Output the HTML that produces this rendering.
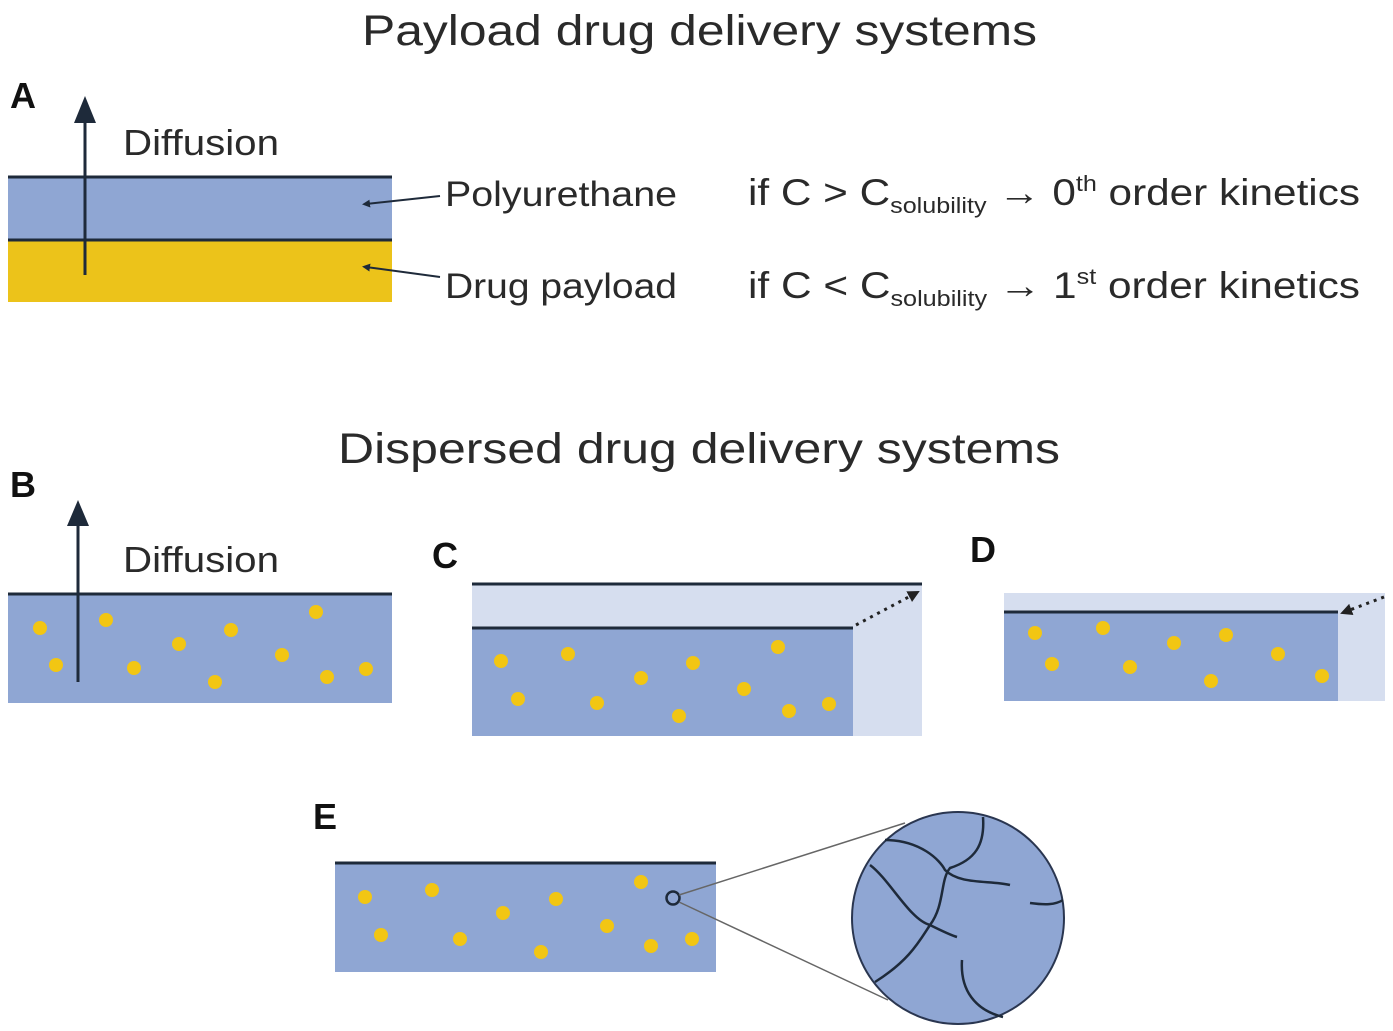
<!DOCTYPE html>
<html><head><meta charset="utf-8"><style>html,body{margin:0;padding:0;background:#fff}svg{display:block}</style></head>
<body>
<svg width="1393" height="1031" viewBox="0 0 1393 1031" xmlns="http://www.w3.org/2000/svg" font-family="Liberation Sans, sans-serif">
<defs>
<marker id="ah" markerWidth="8" markerHeight="8" refX="4" refY="4" orient="auto" markerUnits="userSpaceOnUse"><path d="M0,0 L8,4 L0,8 z" fill="#1e2a3a"/></marker>
<marker id="ad" markerWidth="12" markerHeight="12" refX="10" refY="6" orient="auto" markerUnits="userSpaceOnUse"><path d="M0,0 L12,6 L0,12 z" fill="#222"/></marker>
</defs>
<g fill="#2a2a2a">
<text x="362" y="45" font-size="43" textLength="675" lengthAdjust="spacingAndGlyphs">Payload drug delivery systems</text>
<text x="338" y="463" font-size="43" textLength="722" lengthAdjust="spacingAndGlyphs">Dispersed drug delivery systems</text>
<text x="10" y="108" font-size="36" font-weight="bold" fill="#111">A</text>
<text x="10" y="497" font-size="36" font-weight="bold" fill="#111">B</text>
<text x="432" y="568" font-size="36" font-weight="bold" fill="#111">C</text>
<text x="970" y="562" font-size="36" font-weight="bold" fill="#111">D</text>
<text x="313" y="829" font-size="36" font-weight="bold" fill="#111">E</text>
<text x="123" y="155" font-size="36" textLength="156" lengthAdjust="spacingAndGlyphs">Diffusion</text>
<text x="123" y="572" font-size="36" textLength="156" lengthAdjust="spacingAndGlyphs">Diffusion</text>
<text x="445" y="206" font-size="35" textLength="232" lengthAdjust="spacingAndGlyphs">Polyurethane</text>
<text x="445" y="298" font-size="35" textLength="232" lengthAdjust="spacingAndGlyphs">Drug payload</text>
<text x="748" y="205" font-size="37" lengthAdjust="spacingAndGlyphs" textLength="612">if C &gt; C<tspan font-size="22" dy="8">solubility</tspan><tspan dy="-8"> → 0</tspan><tspan font-size="22" dy="-14">th</tspan><tspan dy="14"> order kinetics</tspan></text>
<text x="748" y="298" font-size="37" lengthAdjust="spacingAndGlyphs" textLength="612">if C &lt; C<tspan font-size="22" dy="8">solubility</tspan><tspan dy="-8"> → 1</tspan><tspan font-size="22" dy="-14">st</tspan><tspan dy="14"> order kinetics</tspan></text>
</g>
<!-- A -->
<rect x="8" y="177" width="384" height="63" fill="#8fa6d3"/>
<rect x="8" y="240" width="384" height="62" fill="#ecc31a"/>
<line x1="8" y1="177" x2="392" y2="177" stroke="#1e2a3a" stroke-width="3"/>
<line x1="8" y1="240" x2="392" y2="240" stroke="#1e2a3a" stroke-width="3"/>
<line x1="85" y1="275" x2="85" y2="115" stroke="#1e2a3a" stroke-width="3"/>
<path d="M74,123 L85,96 L96,123 z" fill="#1e2a3a"/>
<line x1="440" y1="196" x2="366" y2="204" stroke="#1e2a3a" stroke-width="2" marker-end="url(#ah)"/>
<line x1="440" y1="277" x2="366" y2="267" stroke="#1e2a3a" stroke-width="2" marker-end="url(#ah)"/>
<!-- B -->
<rect x="8" y="594" width="384" height="109" fill="#8fa6d3"/>
<line x1="8" y1="594" x2="392" y2="594" stroke="#1e2a3a" stroke-width="3"/>
<line x1="78" y1="682" x2="78" y2="520" stroke="#1e2a3a" stroke-width="3"/>
<path d="M67,526 L78,500 L89,526 z" fill="#1e2a3a"/>
<g fill="#f2c613">
<circle cx="40" cy="628" r="7"/><circle cx="106" cy="620" r="7"/><circle cx="56" cy="665" r="7"/><circle cx="179" cy="644" r="7"/><circle cx="134" cy="668" r="7"/><circle cx="231" cy="630" r="7"/><circle cx="215" cy="682" r="7"/><circle cx="316" cy="612" r="7"/><circle cx="282" cy="655" r="7"/><circle cx="327" cy="677" r="7"/><circle cx="366" cy="669" r="7"/>
</g>
<!-- C -->
<rect x="472" y="584" width="450" height="152" fill="#d6deef"/>
<rect x="472" y="628" width="381" height="108" fill="#8fa6d3"/>
<line x1="472" y1="584" x2="922" y2="584" stroke="#1e2a3a" stroke-width="3"/>
<line x1="472" y1="628" x2="853" y2="628" stroke="#1e2a3a" stroke-width="3"/>
<line x1="856" y1="625" x2="918" y2="592" stroke="#222" stroke-width="3" stroke-dasharray="3,5" marker-end="url(#ad)"/>
<g fill="#f2c613">
<circle cx="501" cy="661" r="7"/><circle cx="568" cy="654" r="7"/><circle cx="518" cy="699" r="7"/><circle cx="641" cy="678" r="7"/><circle cx="597" cy="703" r="7"/><circle cx="693" cy="663" r="7"/><circle cx="679" cy="716" r="7"/><circle cx="778" cy="647" r="7"/><circle cx="744" cy="689" r="7"/><circle cx="789" cy="711" r="7"/><circle cx="829" cy="704" r="7"/>
</g>
<!-- D -->
<rect x="1004" y="593" width="381" height="108" fill="#d6deef"/>
<rect x="1004" y="612" width="334" height="89" fill="#8fa6d3"/>
<line x1="1004" y1="612" x2="1338" y2="612" stroke="#1e2a3a" stroke-width="3"/>
<line x1="1384" y1="597" x2="1342" y2="613" stroke="#222" stroke-width="3" stroke-dasharray="3,5" marker-end="url(#ad)"/>
<g fill="#f2c613">
<circle cx="1035" cy="633" r="7"/><circle cx="1103" cy="628" r="7"/><circle cx="1052" cy="664" r="7"/><circle cx="1174" cy="643" r="7"/><circle cx="1130" cy="667" r="7"/><circle cx="1226" cy="635" r="7"/><circle cx="1211" cy="681" r="7"/><circle cx="1278" cy="654" r="7"/><circle cx="1322" cy="676" r="7"/>
</g>
<!-- E -->
<rect x="335" y="863" width="381" height="109" fill="#8fa6d3"/>
<line x1="335" y1="863" x2="716" y2="863" stroke="#1e2a3a" stroke-width="3"/>
<g fill="#f2c613">
<circle cx="365" cy="897" r="7"/><circle cx="432" cy="890" r="7"/><circle cx="381" cy="935" r="7"/><circle cx="503" cy="913" r="7"/><circle cx="460" cy="939" r="7"/><circle cx="556" cy="899" r="7"/><circle cx="541" cy="952" r="7"/><circle cx="641" cy="882" r="7"/><circle cx="607" cy="926" r="7"/><circle cx="651" cy="946" r="7"/><circle cx="692" cy="939" r="7"/>
</g>
<circle cx="673" cy="898" r="6.5" fill="none" stroke="#1e2a3a" stroke-width="2.5"/>
<line x1="679" y1="895" x2="905" y2="823" stroke="#666" stroke-width="1.5"/>
<line x1="679" y1="902" x2="888" y2="1000" stroke="#666" stroke-width="1.5"/>
<circle cx="958" cy="918" r="106" fill="#8fa6d3" stroke="#2a3650" stroke-width="2"/>
<g fill="none" stroke="#1e2a3a" stroke-width="2.5">
<path d="M885,840 C920,840 940,860 945,870 C960,885 990,880 1010,885"/>
<path d="M983,817 C985,845 975,860 950,868 C940,880 945,905 930,925 C910,920 890,880 870,865"/>
<path d="M930,925 C920,940 910,960 875,982"/>
<path d="M930,925 C940,930 950,935 957,937"/>
<path d="M962,960 C960,990 975,1010 1003,1017"/>
<path d="M1030,903 C1045,905 1055,905 1063,900"/>
</g>
</svg>
</body></html>
